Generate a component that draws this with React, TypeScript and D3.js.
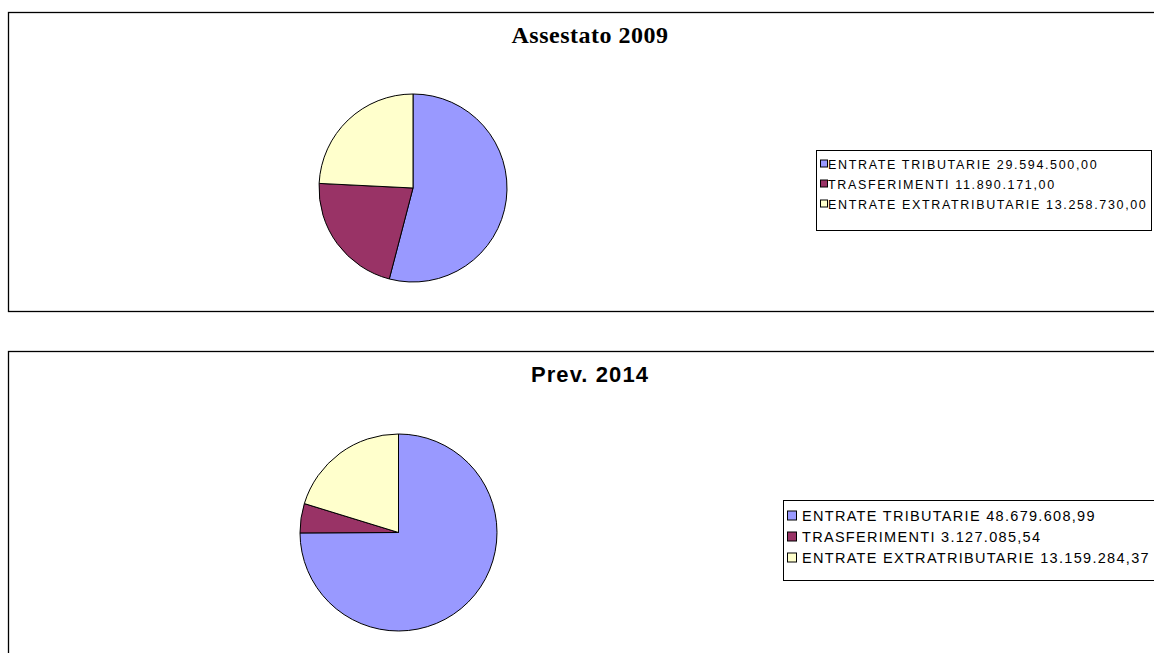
import React from "react";
import * as d3 from "d3";

const categories = ["ENTRATE TRIBUTARIE", "TRASFERIMENTI", "ENTRATE EXTRATRIBUTARIE"];
const values2009 = [29594500.0, 11890171.0, 13258730.0];
const values2014 = [48679608.99, 3127085.54, 13159284.37];
const labels2009 = ["29.594.500,00", "11.890.171,00", "13.258.730,00"];
const labels2014 = ["48.679.608,99", "3.127.085,54", "13.159.284,37"];
const titles = ["Assestato 2009", "Prev. 2014"];
const colors = ["#9999FF", "#993366", "#FFFFCC"];

type PanelProps = {
  y: number;
  h: number;
  title: string;
  titleFont: string;
  titleSize: number;
  titleSpacing: number;
  titleDy: number;
  values: number[];
  labels: string[];
  cx: number;
  cy: number;
  r: number;
  legend: { x: number; y: number; w: number; h: number; size: number; spacing: number; rowH: number; textX: number; first: number; sw: number };
};

function Panel(p: PanelProps) {
  const pie = d3.pie<number>().sort(null).value((d) => d);
  const arcs = pie(p.values);
  const arc = d3.arc<d3.PieArcDatum<number>>().innerRadius(0).outerRadius(p.r);
  const lg = p.legend;
  return (
    <g>
      <rect x={8.5} y={p.y + 0.5} width={1200} height={p.h} fill="#fff" stroke="#000" strokeWidth={1.3} />
      <text
        x={590}
        y={p.y + p.titleDy}
        textAnchor="middle"
        fontFamily={p.titleFont}
        fontWeight="bold"
        fontSize={p.titleSize}
        letterSpacing={p.titleSpacing}
      >
        {p.title}
      </text>
      <g transform={`translate(${p.cx},${p.cy})`}>
        {arcs.map((a, i) => (
          <path key={i} d={arc(a) || ""} fill={colors[i]} stroke="#000" strokeWidth={1} />
        ))}
      </g>
      <rect x={lg.x + 0.5} y={lg.y + 0.5} width={lg.w} height={lg.h} fill="#fff" stroke="#000" strokeWidth={1} />
      {categories.map((c, i) => {
        const ry = lg.y + lg.first + i * lg.rowH;
        return (
          <g key={c}>
            <rect x={lg.x + 4.5} y={ry - lg.sw / 2 - 0.5} width={lg.sw} height={lg.sw} fill={colors[i]} stroke="#000" strokeWidth={1} />
            <text
              x={lg.textX}
              y={ry + lg.size * 0.36}
              fontFamily="'Liberation Sans', Arial, sans-serif"
              fontSize={lg.size}
              letterSpacing={lg.spacing}
            >
              {c + " " + p.labels[i]}
            </text>
          </g>
        );
      })}
    </g>
  );
}

export default function App() {
  return (
    <svg width={1154} height={653} style={{ position: "absolute", left: 0, top: 0, background: "#fff" }}>
      <Panel
        y={12}
        h={299}
        title={titles[0]}
        titleFont="'Liberation Serif', 'Times New Roman', serif"
        titleSize={24}
        titleSpacing={0.5}
        titleDy={31}
        values={values2009}
        labels={labels2009}
        cx={413}
        cy={188}
        r={94}
        legend={{ x: 816, y: 150, w: 335, h: 80, size: 12.5, spacing: 1.65, rowH: 20, textX: 828, first: 14, sw: 7 }}
      />
      <Panel
        y={351}
        h={320}
        title={titles[1]}
        titleFont="'Liberation Sans', Arial, sans-serif"
        titleSize={22}
        titleSpacing={1.1}
        titleDy={31}
        values={values2014}
        labels={labels2014}
        cx={398.5}
        cy={532.5}
        r={98.5}
        legend={{ x: 783, y: 500, w: 400, h: 80, size: 14.5, spacing: 1.3, rowH: 21, textX: 802, first: 16, sw: 9 }}
      />
    </svg>
  );
}
